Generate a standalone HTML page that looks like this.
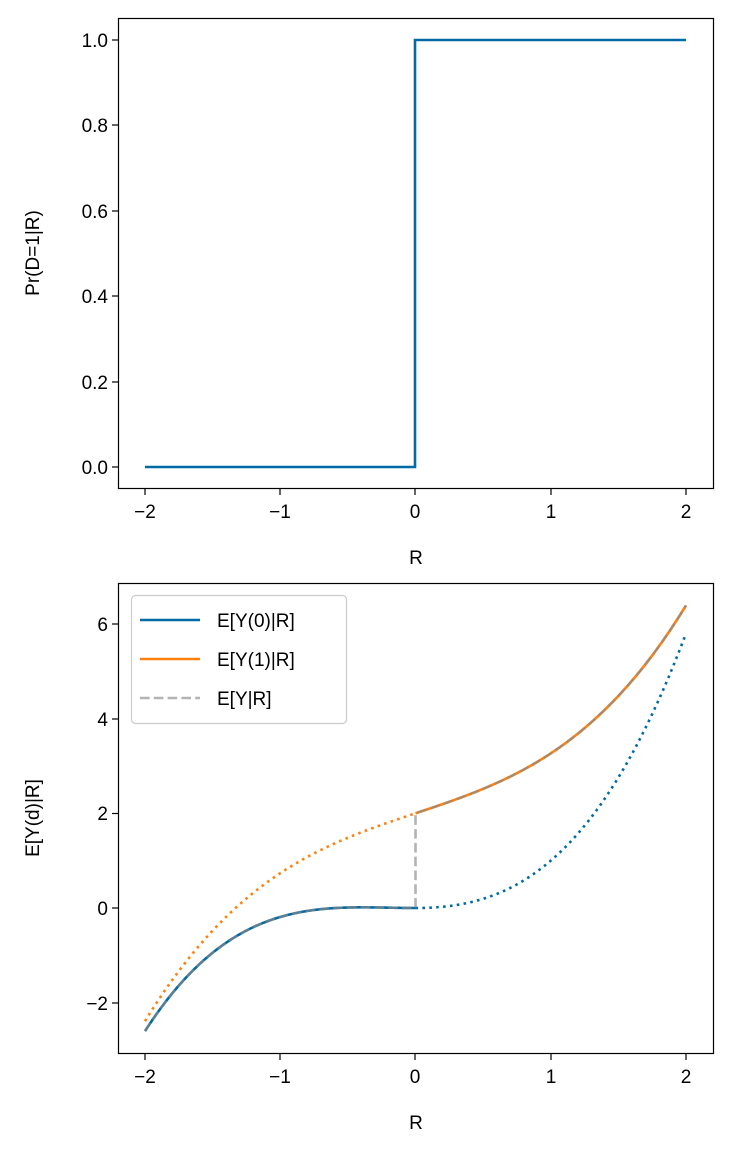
<!DOCTYPE html>
<html><head><meta charset="utf-8"><style>
body{margin:0;background:#fff}
</style></head><body>
<svg id="s" width="732" height="1154" xmlns="http://www.w3.org/2000/svg" font-family="Liberation Sans, DejaVu Sans, sans-serif" font-size="19">
<rect width="732" height="1154" fill="#fff"/>
<polyline points="145,467 415,467 415,40 686,40" fill="none" stroke="#006BA4" stroke-width="2.6"/>
<rect x="118.5" y="18.5" width="595" height="470" fill="none" stroke="#000" stroke-width="1.2"/>
<g stroke="#000" stroke-width="1.2">
<line x1="145" y1="489" x2="145" y2="495"/><line x1="280" y1="489" x2="280" y2="495"/><line x1="415" y1="489" x2="415" y2="495"/><line x1="551" y1="489" x2="551" y2="495"/><line x1="686" y1="489" x2="686" y2="495"/>
<line x1="112" y1="467" x2="118" y2="467"/><line x1="112" y1="382" x2="118" y2="382"/><line x1="112" y1="296" x2="118" y2="296"/><line x1="112" y1="211" x2="118" y2="211"/><line x1="112" y1="125" x2="118" y2="125"/><line x1="112" y1="40" x2="118" y2="40"/>
</g>
<g text-anchor="middle">
<text x="145" y="518">−2</text><text x="280" y="518">−1</text><text x="415" y="518">0</text><text x="551" y="518">1</text><text x="686" y="518">2</text>
<text x="416" y="564">R</text>
</g>
<g text-anchor="end">
<text x="108" y="474">0.0</text><text x="108" y="389">0.2</text><text x="108" y="303">0.4</text><text x="108" y="218">0.6</text><text x="108" y="132">0.8</text><text x="108" y="47">1.0</text>
</g>
<text transform="translate(39,253) rotate(-90)" text-anchor="middle">Pr(D=1|R)</text>
<path id="y0d" fill="none" stroke="#006BA4" stroke-width="2.6" stroke-dasharray="2.6,4.3"/>
<path id="y1d" fill="none" stroke="#FF800E" stroke-width="2.6" stroke-dasharray="2.6,4.3"/>
<path id="y0s" fill="none" stroke="#006BA4" stroke-width="2.6"/>
<path id="y1s" fill="none" stroke="#FF800E" stroke-width="2.6"/>
<path id="ys" fill="none" stroke="#8a8a8a" stroke-opacity="0.65" stroke-width="2.6" stroke-dasharray="9.6,4.2"/>
<rect x="118.5" y="583.5" width="595" height="470" fill="none" stroke="#000" stroke-width="1.2"/>
<g stroke="#000" stroke-width="1.2">
<line x1="145" y1="1054" x2="145" y2="1060"/><line x1="280" y1="1054" x2="280" y2="1060"/><line x1="415" y1="1054" x2="415" y2="1060"/><line x1="551" y1="1054" x2="551" y2="1060"/><line x1="686" y1="1054" x2="686" y2="1060"/>
<line x1="112" y1="1003" x2="118" y2="1003"/><line x1="112" y1="908" x2="118" y2="908"/><line x1="112" y1="813.5" x2="118" y2="813.5"/><line x1="112" y1="719" x2="118" y2="719"/><line x1="112" y1="624" x2="118" y2="624"/>
</g>
<g text-anchor="middle">
<text x="145" y="1083">−2</text><text x="280" y="1083">−1</text><text x="415" y="1083">0</text><text x="551" y="1083">1</text><text x="686" y="1083">2</text>
<text x="416" y="1129">R</text>
</g>
<g text-anchor="end">
<text x="108" y="1010">−2</text><text x="108" y="915">0</text><text x="108" y="820">2</text><text x="108" y="726">4</text><text x="108" y="631">6</text>
</g>
<text transform="translate(39,818) rotate(-90)" text-anchor="middle">E[Y(d)|R]</text>
<rect x="131.5" y="595.5" width="215" height="128" rx="4" fill="#fff" fill-opacity="0.8" stroke="#ccc" stroke-width="1.2"/>
<line x1="140" y1="620" x2="200" y2="620" stroke="#006BA4" stroke-width="2.6"/>
<line x1="140" y1="659" x2="200" y2="659" stroke="#FF800E" stroke-width="2.6"/>
<line x1="140" y1="698" x2="200" y2="698" stroke="#8a8a8a" stroke-opacity="0.65" stroke-width="2.6" stroke-dasharray="9.6,4.2"/>
<text x="217" y="627">E[Y(0)|R]</text>
<text x="217" y="666">E[Y(1)|R]</text>
<text x="217" y="705">E[Y|R]</text>
</svg>
<script>
function X(r){return 415.5+135.25*r}
function Y(v){return 908-47.35*v}
function g0(r){ if(r<0){return 0.46*r*r*r+0.27*r*r;} return 0.45*r*r*r+0.55*r*r;}
function g1(r){return 2+0.955*r+0.31*r*r*r}
function p(f,a,b){var s="";for(var i=0;i<=200;i++){var r=a+(b-a)*i/200;s+=(i?"L":"M")+X(r).toFixed(2)+","+Y(f(r)).toFixed(2)}return s}
document.getElementById("y0d").setAttribute("d",p(g0,0,2));
document.getElementById("y1d").setAttribute("d",p(g1,-2,0));
document.getElementById("y0s").setAttribute("d",p(g0,-2,0));
document.getElementById("y1s").setAttribute("d",p(g1,0,2));
document.getElementById("ys").setAttribute("d",p(g0,-2,0)+"L"+X(0)+","+Y(2)+p(g1,0,2).replace(/^M/,"L"));
</script>
</body></html>
